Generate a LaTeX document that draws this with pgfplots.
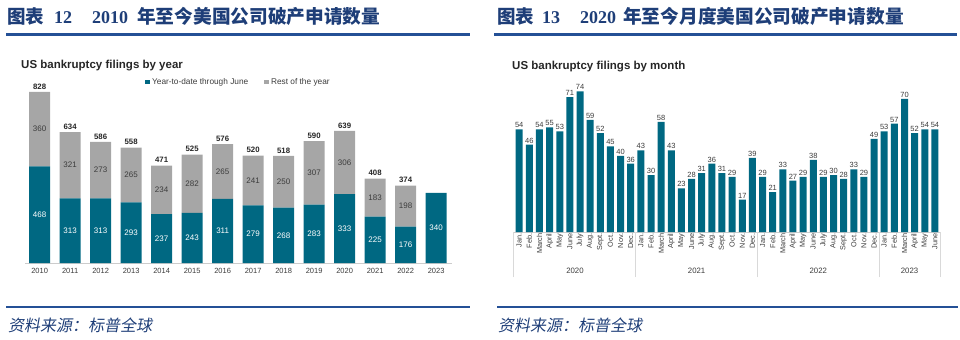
\documentclass[border=0pt]{standalone}
\usepackage{pgfplots}
\usepackage{pgfplotstable}
\pgfplotsset{compat=1.18}
\usepackage{fontspec}
\setmainfont{Liberation Sans}
\newfontfamily\cjk{Noto Sans CJK SC}
\newfontfamily\cjkit[FakeSlant=0.18]{Noto Sans CJK SC}
\newfontfamily\hserif{Liberation Serif}
\definecolor{barteal}{RGB}{0,104,130}
\definecolor{bargray}{RGB}{166,166,166}
\definecolor{hblue}{RGB}{30,62,120}
\definecolor{lblue}{RGB}{36,80,150}
\definecolor{txt}{RGB}{60,60,60}

\pgfplotstableread{
x ytd rest total
0 468 360 828
1 313 321 634
2 313 273 586
3 293 265 558
4 237 234 471
5 243 282 525
6 311 265 576
7 279 241 520
8 268 250 518
9 283 307 590
10 333 306 639
11 225 183 408
12 176 198 374
13 340 0 340
}\yeardata

\pgfplotstableread{
x v
0 54
1 46
2 54
3 55
4 53
5 71
6 74
7 59
8 52
9 45
10 40
11 36
12 43
13 30
14 58
15 43
16 23
17 28
18 31
19 36
20 31
21 29
22 17
23 39
24 29
25 21
26 33
27 27
28 29
29 38
30 29
31 30
32 28
33 33
34 29
35 49
36 53
37 57
38 70
39 52
40 54
41 54
}\monthdata

\begin{document}
\begin{tikzpicture}
\useasboundingbox (0,0) rectangle (960bp,-340bp);
% ---------- headers ----------
\begin{scope}[every node/.style={anchor=base west, inner sep=0pt, text=hblue}]
\node[font=\cjk\bfseries\fontsize{18.5bp}{20bp}\selectfont] at (7bp,-23bp) {图表};
\node[font=\hserif\bfseries\fontsize{18bp}{20bp}\selectfont] at (54bp,-23bp) {12};
\node[font=\hserif\bfseries\fontsize{18bp}{20bp}\selectfont] at (92bp,-23bp) {2010};
\node[font=\cjk\bfseries\fontsize{18.7bp}{20bp}\selectfont] at (137bp,-23bp) {年至今美国公司破产申请数量};
\node[font=\cjk\bfseries\fontsize{18.5bp}{20bp}\selectfont] at (497bp,-23bp) {图表};
\node[font=\hserif\bfseries\fontsize{18bp}{20bp}\selectfont] at (542bp,-23bp) {13};
\node[font=\hserif\bfseries\fontsize{18bp}{20bp}\selectfont] at (580bp,-23bp) {2020};
\node[font=\cjk\bfseries\fontsize{18.7bp}{20bp}\selectfont] at (623bp,-23bp) {年至今月度美国公司破产申请数量};
\node[font=\cjkit\fontsize{16bp}{18bp}\selectfont] at (8bp,-331bp) {资料来源：标普全球};
\node[font=\cjkit\fontsize{16bp}{18bp}\selectfont] at (498bp,-331bp) {资料来源：标普全球};
\end{scope}
\fill[lblue] (6bp,-33.2bp) rectangle (470bp,-35.6bp);
\fill[lblue] (494bp,-33.2bp) rectangle (957bp,-35.6bp);
\fill[lblue] (6bp,-305.6bp) rectangle (470bp,-308bp);
\fill[lblue] (497bp,-305.6bp) rectangle (958bp,-308bp);
% chart titles
\node[anchor=west, inner sep=0pt, font=\bfseries\fontsize{11.5bp}{13bp}\selectfont, text=black!85] at (21bp,-66bp) {US bankruptcy filings by year};
\node[anchor=west, inner sep=0pt, font=\bfseries\fontsize{11.5bp}{13bp}\selectfont, text=black!85] at (512bp,-67bp) {US bankruptcy filings by month};

% ---------- left chart ----------
\begin{axis}[
 at={(25bp,-263bp)}, anchor=south west, scale only axis,
 width=427bp, height=188bp,
 xmin=-0.48, xmax=13.52, ymin=0, ymax=910,
 ybar stacked, bar width=21bp,
 axis y line=none, axis x line*=bottom,
 x axis line style={-, draw=black!20, line width=0.8pt},
 xtick={0,1,2,3,4,5,6,7,8,9,10,11,12,13},
 xticklabels={2010,2011,2012,2013,2014,2015,2016,2017,2018,2019,2020,2021,2022,2023},
 major tick length=0pt,
 xticklabel style={font=\fontsize{7.5bp}{8bp}\selectfont, text=txt, yshift=-2bp},
 legend cell align=left,
 legend style={at={(0.5,0.963)}, anchor=center, draw=none, fill=none, legend columns=2,
   font=\fontsize{8.3bp}{9bp}\selectfont, text=txt,
   /tikz/every even column/.append style={column sep=14bp}, inner sep=0pt},
 legend image code/.code={\fill[#1] (0bp,-2.4bp) rectangle (4.8bp,2.4bp);},
]
\addplot[fill=barteal, draw=none] table[x=x,y=ytd]{\yeardata};
\addlegendentry{Year-to-date through June}
\addplot[fill=bargray, draw=none] table[x=x,y=rest]{\yeardata};
\addlegendentry{Rest of the year}
\end{axis}
% labels overlay
\begin{axis}[
 at={(25bp,-263bp)}, anchor=south west, scale only axis,
 width=427bp, height=188bp,
 xmin=-0.48, xmax=13.52, ymin=0, ymax=910,
 hide axis, clip=false,
 point meta=explicit symbolic,
]
\addplot[only marks, mark=none, nodes near coords,
  every node near coord/.append style={anchor=center, text=white, font=\fontsize{8bp}{9bp}\selectfont}]
  table[x=x, y expr=\thisrow{ytd}/2, meta=ytd]{\yeardata};
\addplot[only marks, mark=none, nodes near coords, restrict x to domain=0:12,
  every node near coord/.append style={anchor=center, text=txt, font=\fontsize{8bp}{9bp}\selectfont}]
  table[x=x, y expr=\thisrow{ytd}+\thisrow{rest}/2, meta=rest]{\yeardata};
\addplot[only marks, mark=none, nodes near coords, restrict x to domain=0:12,
  every node near coord/.append style={anchor=south, text=black!85, inner sep=2.5bp, font=\bfseries\fontsize{7.8bp}{9bp}\selectfont}]
  table[x=x, y=total, meta=total]{\yeardata};
\end{axis}

% ---------- right chart ----------
\begin{axis}[
 at={(513bp,-232bp)}, anchor=south west, scale only axis,
 width=427bp, height=162bp,
 xmin=-0.61, xmax=41.5, ymin=0, ymax=85.26,
 ybar, bar width=7bp,
 axis y line=none, axis x line*=bottom,
 x axis line style={-, draw=black!20, line width=0.8pt},
 xtick={0,...,41},
 xticklabels={Jan.,Feb.,March,April,May,June,July,Aug.,Sept.,Oct.,Nov.,Dec.,
   Jan.,Feb.,March,April,May,June,July,Aug.,Sept.,Oct.,Nov.,Dec.,
   Jan.,Feb.,March,April,May,June,July,Aug.,Sept.,Oct.,Nov.,Dec.,
   Jan.,Feb.,March,April,May,June},
 major tick length=0pt,
 xticklabel style={rotate=90, anchor=east, font=\fontsize{7.3bp}{7.5bp}\selectfont, text=txt, inner sep=1.5bp},
 nodes near coords,
 /pgf/number format/assume math mode=true,
 every node near coord/.append style={font=\fontsize{7.5bp}{8bp}\selectfont, text=txt, inner sep=1.3bp},
 clip=false,
]
\addplot[fill=barteal, draw=none] table[x=x,y=v]{\monthdata};
\end{axis}
% year groups overlay
\begin{axis}[
 at={(513bp,-232bp)}, anchor=south west, scale only axis,
 width=427bp, height=162bp,
 xmin=-0.61, xmax=41.5, ymin=0, ymax=85.26,
 axis y line=none, axis x line*=bottom,
 x axis line style={draw=none},
 xtick={5.5,17.5,29.5,38.5},
 xticklabels={2020,2021,2022,2023},
 major tick length=0pt,
 minor xtick={-0.61,11.5,23.5,35.5,41.5},
 minor tick length=45bp, tick align=outside,
 minor tick style={draw=black!15, line width=0.7pt},
 xticklabel style={font=\fontsize{7.8bp}{8bp}\selectfont, text=txt, yshift=-33bp},
]
\end{axis}
\end{tikzpicture}
\end{document}
